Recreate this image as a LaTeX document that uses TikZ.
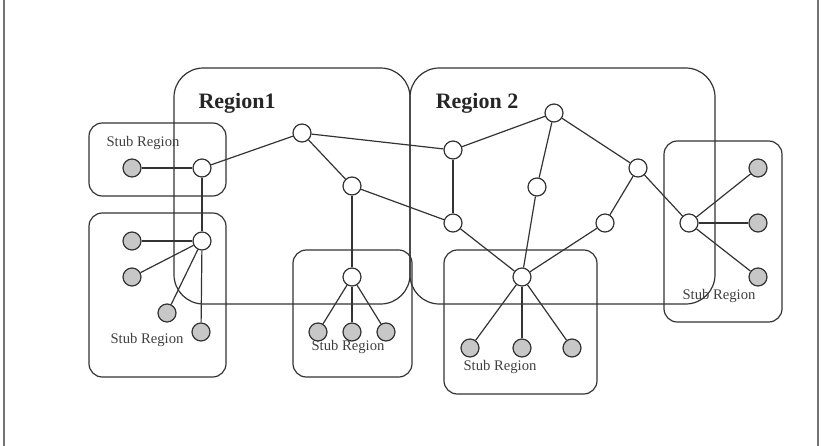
\documentclass[tikz,border=0pt]{standalone}
\usepackage{fontspec}
\setmainfont{Liberation Serif}
\usetikzlibrary{positioning}

\begin{document}
\begin{tikzpicture}[x=0.75pt,y=-0.75pt,line width=0.9pt,
		router/.style={circle,draw=black!80,fill=white,inner sep=0pt,minimum size=13.5pt},
		host/.style={circle,draw=black!80,fill=black!22,inner sep=0pt,minimum size=13.5pt},
		region/.style={draw=black!80,rounded corners=22pt},
		stub/.style={draw=black!80,rounded corners=10pt},
		stublabel/.style={font=\fontsize{11}{12}\selectfont,text=black!75},
		regionlabel/.style={font=\fontsize{16.5}{18}\selectfont\bfseries,text=black!85}]
		\useasboundingbox (0,0) rectangle (822,446);
		\draw[black!55] (4,0) -- (4,446) (818,0) -- (818,446);
		\draw[region] (174,68) rectangle (410,304);
		\draw[region] (410,68) rectangle (715,304);
		\draw[stub] (89,123) rectangle (226,196);
		\draw[stub] (89,213) rectangle (226,377);
		\draw[stub] (293,250) rectangle (412,377);
		\draw[stub] (444,250) rectangle (597,394);
		\draw[stub] (664,141) rectangle (782,322);
		\node[regionlabel] (lab1) at (237,103) {Region1};
		\node[regionlabel] (lab2) at (477,103) {Region 2};
		\node[stublabel] (sa) at (143,143) {Stub Region};
		\node[stublabel] (sb) at (147,340) {Stub Region};
		\node[stublabel] (sc) at (348,347) {Stub Region};
		\node[stublabel] (sd) at (500,367) {Stub Region};
		\node[stublabel] (se) at (719,296) {Stub Region};
		\node[router] (a1) at (202,168) {};
		\node[router] (b1) at (202,241) {};
		\node[router] (r1) at (302,133) {};
		\node[router] (r2) at (352,186) {};
		\node[router] (c1) at (352,277) {};
		\node[router] (n1) at (453,150) {};
		\node[router] (n2) at (554,113) {};
		\node[router] (n3) at (537,187) {};
		\node[router] (n4) at (638,168) {};
		\node[router] (n5) at (453,223) {};
		\node[router] (n6) at (605,223) {};
		\node[router] (d1) at (522,277) {};
		\node[router] (e1) at (689,223) {};
		\node[host] (ga) at (132,168) {};
		\node[host] (gb1) at (132,241) {};
		\node[host] (gb2) at (132,277) {};
		\node[host] (gb3) at (167,313) {};
		\node[host] (gb4) at (201,332) {};
		\node[host] (gc1) at (318,332) {};
		\node[host] (gc2) at (352,332) {};
		\node[host] (gc3) at (386,332) {};
		\node[host] (gd1) at (470,348) {};
		\node[host] (gd2) at (522,348) {};
		\node[host] (gd3) at (572,348) {};
		\node[host] (ge1) at (758,168) {};
		\node[host] (ge2) at (758,223) {};
		\node[host] (ge3) at (758,277) {};
		\path[draw=black!80]
		(ga) edge (a1)
		(a1) edge (r1)
		(a1) edge (b1)
		(r1) edge (r2)
		(r1) edge (n1)
		(r2) edge (c1)
		(r2) edge (n5)
		(b1) edge (gb1)
		(b1) edge (gb2)
		(b1) edge (gb3)
		(b1) edge (gb4)
		(c1) edge (gc1)
		(c1) edge (gc2)
		(c1) edge (gc3)
		(n1) edge (n2)
		(n1) edge (n5)
		(n2) edge (n3)
		(n2) edge (n4)
		(n3) edge (d1)
		(n5) edge (d1)
		(n6) edge (d1)
		(n4) edge (n6)
		(n4) edge (e1)
		(e1) edge (ge1)
		(e1) edge (ge2)
		(e1) edge (ge3)
		(d1) edge (gd1)
		(d1) edge (gd2)
		(d1) edge (gd3);
\end{tikzpicture}
\end{document}
